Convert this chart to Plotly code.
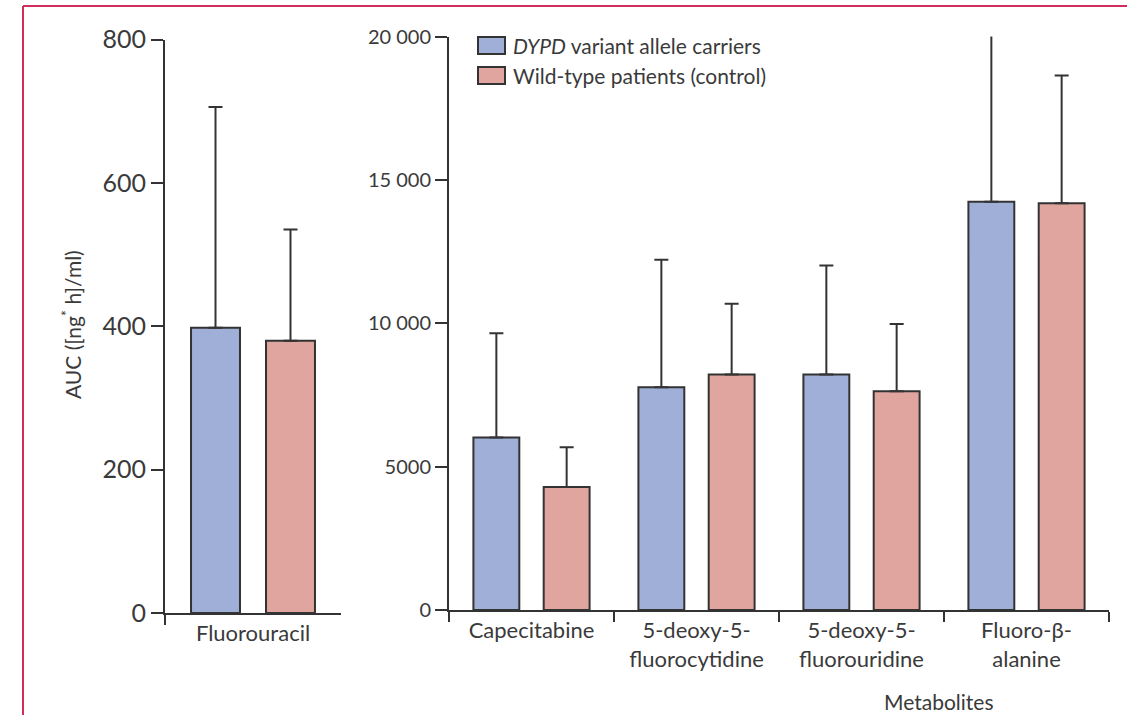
import plotly.graph_objects as go

# ---- data ----
left_categories = ["Fluorouracil"]
left_carriers = [398]
left_carriers_err = [308]
left_wild = [380]
left_wild_err = [155]

metab_categories = ["Capecitabine", "5-deoxy-5-<br>fluorocytidine",
                    "5-deoxy-5-<br>fluorouridine", "Fluoro-β-<br>alanine"]
carriers = [6020, 7770, 8210, 14240]
carriers_err = [3630, 4450, 3810, 5860]
wild = [4290, 8210, 7630, 14190]
wild_err = [1385, 2475, 2345, 4450]

left_ticks = [0, 200, 400, 600, 800]
right_ticks = [0, 5000, 10000, 15000, 20000]
right_ticktext = ["0", "5000", "10 000", "15 000", "20 000"]

series_names = ["<i>DYPD</i> variant allele carriers", "Wild-type patients (control)"]

# ---- style ----
BLUE = "#A0AFD7"
RED = "#E1A5A0"
DARK = "#333333"
TXT = "#3a3a3a"
FONT = "Lato"
W, H = 1127, 715

def err(arr):
    return dict(type="data", array=arr, symmetric=False, arrayminus=[0] * len(arr),
                color=DARK, thickness=2, width=7)

fig = go.Figure()
line = dict(color=DARK, width=2)
fig.add_trace(go.Bar(x=left_categories, y=left_carriers, error_y=err(left_carriers_err),
                     marker=dict(color=BLUE, line=line), xaxis="x", yaxis="y", cliponaxis=False,
                     name="DYPD variant allele carriers", showlegend=False))
fig.add_trace(go.Bar(x=left_categories, y=left_wild, error_y=err(left_wild_err),
                     marker=dict(color=RED, line=line), xaxis="x", yaxis="y", cliponaxis=False,
                     name="Wild-type patients (control)", showlegend=False))
fig.add_trace(go.Bar(x=metab_categories, y=carriers, error_y=err(carriers_err),
                     marker=dict(color=BLUE, line=line), xaxis="x2", yaxis="y2", cliponaxis=False,
                     name="DYPD variant allele carriers", showlegend=False))
fig.add_trace(go.Bar(x=metab_categories, y=wild, error_y=err(wild_err),
                     marker=dict(color=RED, line=line), xaxis="x2", yaxis="y2", cliponaxis=False,
                     name="Wild-type patients (control)", showlegend=False))

xcommon = dict(showline=True, linecolor=DARK, linewidth=2, ticks="outside", tickson="boundaries",
               ticklen=10, tickwidth=2, tickcolor=DARK, showgrid=False, zeroline=False,
               automargin=False, tickfont=dict(family=FONT, size=22, color=TXT))
ycommon = dict(showline=True, linecolor=DARK, linewidth=2, ticks="outside", ticklen=12,
               tickwidth=2, tickcolor=DARK, showgrid=False, zeroline=False, automargin=False)

fig.update_layout(
    width=W, height=H,
    margin=dict(l=0, r=0, t=0, b=0, pad=0),
    paper_bgcolor="white", plot_bgcolor="white",
    barmode="group", bargap=0.148, bargroupgap=0.347,
    font=dict(family=FONT, color=TXT),
    xaxis=dict(domain=[165 / W, 341 / W], anchor="y", range=[-0.5, 0.5], **xcommon),
    yaxis=dict(domain=[1 - 613 / H, 1 - 39.6 / H], anchor="x", range=[0, 800],
               tickvals=left_ticks, tickfont=dict(family=FONT, size=25, color=TXT), **ycommon),
    xaxis2=dict(domain=[449 / W, 1109 / W], anchor="y2", range=[-0.5, 3.5], **xcommon),
    yaxis2=dict(domain=[1 - 610 / H, 1 - 36.6 / H], anchor="x2", range=[0, 20000],
                tickvals=right_ticks, ticktext=right_ticktext,
                tickfont=dict(family=FONT, size=20, color=TXT), **ycommon),
)

# frame lines (crimson border at left and top)
BORDER = "#D02C5C"
fig.add_shape(type="line", xref="paper", yref="paper", x0=23 / W, x1=23 / W, y0=0, y1=1 - 6 / H,
              line=dict(color=BORDER, width=2))
fig.add_shape(type="line", xref="paper", yref="paper", x0=23 / W, x1=1, y0=1 - 6 / H, y1=1 - 6 / H,
              line=dict(color=BORDER, width=2))

# legend (manual)
legend_rows = [(45.5, BLUE, series_names[0]), (75.5, RED, series_names[1])]
for yc, col, label in legend_rows:
    fig.add_shape(type="rect", xref="paper", yref="paper",
                  x0=478 / W, x1=505 / W, y0=1 - (yc + 8.5) / H, y1=1 - (yc - 8.5) / H,
                  fillcolor=col, line=dict(color=DARK, width=2))
    fig.add_annotation(xref="paper", yref="paper", x=511 / W, y=1 - yc / H, text=label,
                       showarrow=False, xanchor="left", yanchor="middle",
                       font=dict(family=FONT, size=21, color=TXT))

# axis titles
fig.add_annotation(xref="paper", yref="paper", x=71 / W, y=1 - 325 / H,
                   text="AUC ([ng<sup>*</sup> h]/ml)", textangle=-90, showarrow=False,
                   xanchor="center", yanchor="middle", font=dict(family=FONT, size=21, color=TXT))
fig.add_annotation(xref="paper", yref="paper", x=938 / W, y=1 - 701 / H, text="Metabolites",
                   showarrow=False, xanchor="center", yanchor="middle",
                   font=dict(family=FONT, size=21, color=TXT))

fig.write_html("out.html", config={"displayModeBar": False},
               post_script="document.body.style.margin='0';document.body.style.overflow='hidden';")
